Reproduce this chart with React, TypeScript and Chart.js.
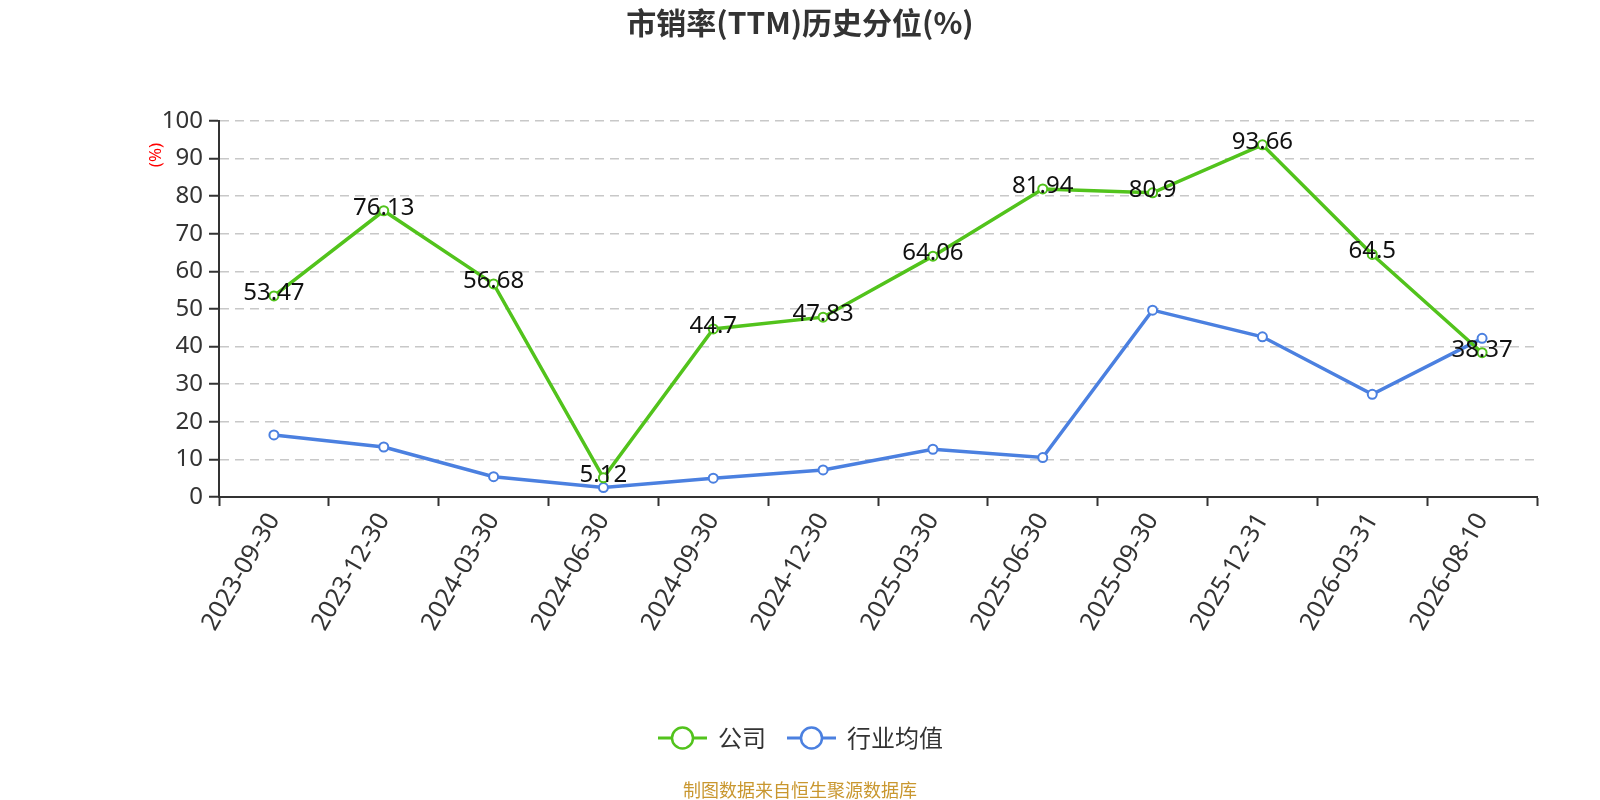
import React, { useEffect, useRef } from "react";
import { Chart, registerables } from "chart.js";

Chart.register(...registerables);

const titleText = "市销率(TTM)历史分位(%)";
const yAxisName = "(%)";
const sourceText = "制图数据来自恒生聚源数据库";
const categories = [
  "2023-09-30", "2023-12-30", "2024-03-30", "2024-06-30", "2024-09-30", "2024-12-30",
  "2025-03-30", "2025-06-30", "2025-09-30", "2025-12-31", "2026-03-31", "2026-08-10",
];
const companyName = "公司";
const industryName = "行业均值";
const companyValues = [53.47, 76.13, 56.68, 5.12, 44.7, 47.83, 64.06, 81.94, 80.9, 93.66, 64.5, 38.37];
const industryValues = [16.5, 13.3, 5.4, 2.5, 5.0, 7.2, 12.7, 10.5, 49.7, 42.6, 27.3, 42.2];

const GREEN = "#52C31C";
const BLUE = "#4B80E0";
const FONT = "'Noto Sans', 'Noto Sans CJK SC', sans-serif";

const decorPlugin = {
  id: "decor",
  afterDatasetsDraw(chart: any) {
    const ctx = chart.ctx;
    const meta = chart.getDatasetMeta(0);
    ctx.save();
    ctx.font = `24px ${FONT}`;
    ctx.fillStyle = "#111";
    ctx.textAlign = "center";
    ctx.textBaseline = "middle";
    meta.data.forEach((pt: any, i: number) => {
      ctx.fillText(String(companyValues[i]), pt.x, pt.y - 3);
    });
    ctx.restore();
  },
  afterDraw(chart: any) {
    const ctx = chart.ctx;
    ctx.save();
    ctx.font = `bold 30px 'Noto Sans CJK SC', 'Noto Sans', sans-serif`;
    ctx.fillStyle = "#333";
    ctx.textAlign = "center";
    ctx.textBaseline = "middle";
    ctx.fillText(titleText, 800, 23);

    ctx.save();
    ctx.translate(156, 155);
    ctx.rotate(-Math.PI / 2);
    ctx.font = `17px ${FONT}`;
    ctx.fillStyle = "#ff0000";
    ctx.fillText(yAxisName, 0, 0);
    ctx.restore();

    const items = [
      { x: 658, name: companyName, color: GREEN },
      { x: 787, name: industryName, color: BLUE },
    ];
    const ly = 738;
    items.forEach((it) => {
      ctx.strokeStyle = it.color;
      ctx.lineWidth = 3;
      ctx.beginPath();
      ctx.moveTo(it.x, ly);
      ctx.lineTo(it.x + 49, ly);
      ctx.stroke();
      ctx.beginPath();
      ctx.arc(it.x + 24.5, ly, 10.5, 0, Math.PI * 2);
      ctx.fillStyle = "#fff";
      ctx.fill();
      ctx.lineWidth = 2.5;
      ctx.stroke();
      ctx.font = `24px 'Noto Sans CJK SC', sans-serif`;
      ctx.fillStyle = "#333";
      ctx.textAlign = "left";
      ctx.textBaseline = "middle";
      ctx.fillText(it.name, it.x + 60, ly);
    });

    ctx.font = `18px 'Noto Sans CJK SC', sans-serif`;
    ctx.fillStyle = "#C9972F";
    ctx.textAlign = "center";
    ctx.textBaseline = "middle";
    ctx.fillText(sourceText, 800, 790);
    ctx.restore();
  },
};

export default function App() {
  const ref = useRef<HTMLCanvasElement | null>(null);
  useEffect(() => {
    document.body.style.margin = "0";
    if (!ref.current) return;
    const chart = new Chart(ref.current, {
      type: "line",
      data: {
        labels: categories,
        datasets: [
          {
            label: companyName,
            data: companyValues,
            borderColor: GREEN,
            backgroundColor: GREEN,
            borderWidth: 3.5,
            pointRadius: 4.5,
            pointBorderWidth: 2,
            pointBackgroundColor: "#fff",
            pointBorderColor: GREEN,
            tension: 0,
          },
          {
            label: industryName,
            data: industryValues,
            borderColor: BLUE,
            backgroundColor: BLUE,
            borderWidth: 3.5,
            pointRadius: 4.5,
            pointBorderWidth: 2,
            pointBackgroundColor: "#fff",
            pointBorderColor: BLUE,
            tension: 0,
          },
        ],
      },
      options: {
        responsive: false,
        animation: false,
        layout: { padding: { top: 121, left: 0, right: 63, bottom: 0 } },
        plugins: {
          legend: { display: false },
          title: { display: false },
          tooltip: { enabled: false },
        },
        scales: {
          x: {
            type: "category",
            offset: true,
            grid: {
              display: true,
              drawOnChartArea: false,
              drawTicks: true,
              tickLength: 9,
              tickColor: "#333",
              tickWidth: 2,
              offset: true,
            },
            border: { display: true, color: "#333", width: 2 },
            ticks: {
              color: "#333",
              font: { size: 25, family: FONT },
              maxRotation: 60,
              minRotation: 60,
              autoSkip: false,
              padding: 2,
            },
            afterFit: (s: any) => {
              s.height = 303;
            },
          },
          y: {
            min: 0,
            max: 100,
            ticks: {
              stepSize: 10,
              color: "#333",
              font: { size: 24, family: FONT },
              padding: 6,
            },
            grid: {
              color: "#c8c8c8",
              lineWidth: 1.5,
              drawTicks: true,
              tickLength: 10,
              tickColor: "#333",
              tickWidth: 2,
              tickBorderDash: [],
            },
            border: { display: true, color: "#333", width: 2, dash: [9, 6] },
            afterFit: (s: any) => {
              s.width = 219;
            },
          },
        },
      },
      plugins: [decorPlugin],
    } as any);
    return () => chart.destroy();
  }, []);
  return (
    <div style={{ width: 1600, height: 800 }}>
      <canvas ref={ref} width={1600} height={800} style={{ display: "block" }} />
    </div>
  );
}
